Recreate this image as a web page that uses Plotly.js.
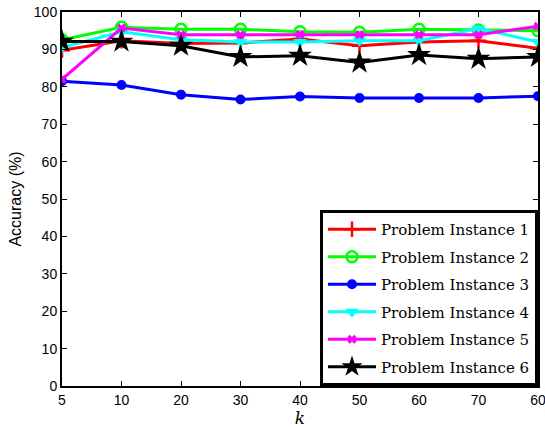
<!DOCTYPE html>
<html>
<head>
<meta charset="utf-8">
<script src="https://cdn.plot.ly/plotly-3.0.1.min.js"></script>
<style>html,body{margin:0;padding:0;background:#fff;}#chart{width:545px;height:428px;}</style>
</head>
<body>
<div id="chart"></div>
<script>
const kCategories = ["5","10","20","30","40","50","60","70","80"];
const tickLabels = ["5","10","20","30","40","50","60","70","60"];
const seriesNames = ["Problem Instance 1","Problem Instance 2","Problem Instance 3","Problem Instance 4","Problem Instance 5","Problem Instance 6"];
const inst1 = [89.8, 92.3, 91.6, 91.7, 92.8, 91.0, 92.0, 92.3, 90.3];
const inst2 = [92.6, 95.9, 95.4, 95.4, 94.7, 94.6, 95.4, 95.2, 95.0];
const inst3 = [81.5, 80.5, 77.9, 76.6, 77.4, 77.0, 77.0, 77.0, 77.5];
const inst4 = [90.5, 94.7, 92.6, 92.0, 92.0, 92.3, 92.3, 95.6, 92.0];
const inst5 = [82.0, 95.7, 93.9, 93.9, 94.0, 93.9, 93.9, 93.9, 96.2];
const inst6 = [92.1, 92.1, 91.0, 88.0, 88.3, 86.5, 88.5, 87.5, 88.0];
const markedK = "10";

const SERIF = "DejaVu Serif";
const styles = [
  {color:"#ff0000", symbol:"cross-thin", size:11, lw:2.5},
  {color:"#00ff00", symbol:"circle-open", size:11, lw:2.5},
  {color:"#0000ff", symbol:"circle", size:10, lw:0},
  {color:"#00ffff", symbol:"triangle-down", size:12, lw:0},
  {color:"#ff00ff", symbol:"x", size:8, lw:0},
  {color:"#000000", symbol:"star", size:18, lw:0}
];
const allSeries = [inst1, inst2, inst3, inst4, inst5, inst6];
const traces = allSeries.map((ys, i) => ({
  type: "scatter",
  mode: "lines+markers",
  x: kCategories,
  y: ys,
  name: seriesNames[i],
  legendgroup: "g" + i,
  line: {color: styles[i].color, width: 3},
  marker: {symbol: styles[i].symbol, size: styles[i].size, color: styles[i].color,
           line: {color: styles[i].color, width: styles[i].lw}}
}));

const layout = {
  width: 545, height: 428,
  margin: {l: 62, r: 7, t: 12, b: 42},
  paper_bgcolor: "#ffffff", plot_bgcolor: "#ffffff",
  showlegend: true,
  font: {family: "Liberation Sans", size: 13, color: "#000"},
  xaxis: {
    type: "category", categoryarray: kCategories, range: [0, 8],
    tickvals: kCategories, ticktext: tickLabels,
    showline: true, linecolor: "#000", linewidth: 2, mirror: "ticks",
    ticks: "inside", ticklen: 5, tickcolor: "#000", tickwidth: 1,
    showgrid: false, zeroline: false,
    tickfont: {size: 14},
    title: {text: "<i>k</i>", font: {family: SERIF, size: 17}, standoff: 2}
  },
  yaxis: {
    range: [0, 100], dtick: 10,
    showline: true, linecolor: "#000", linewidth: 2, mirror: "ticks",
    ticks: "inside", ticklen: 5, tickcolor: "#000", tickwidth: 1,
    showgrid: false, zeroline: false,
    tickfont: {size: 14},
    title: {text: "Accuracy (%)", font: {size: 16}, standoff: 8}
  },
  legend: {
    x: 1, y: 0, xanchor: "right", yanchor: "bottom",
    bgcolor: "#ffffff", bordercolor: "#000", borderwidth: 3,
    font: {family: SERIF, size: 15, color: "#000"},
    itemwidth: 48,
    entrywidth: 225,
    tracegroupgap: 5
  },
  shapes: [{
    type: "line", xref: "x", yref: "paper", x0: markedK, x1: markedK, y0: 0, y1: 1,
    line: {color: "#cc0000", width: 1}, layer: "below"
  }]
};
Plotly.newPlot("chart", traces, layout, {displayModeBar: false, staticPlot: true});
</script>
</body>
</html>
